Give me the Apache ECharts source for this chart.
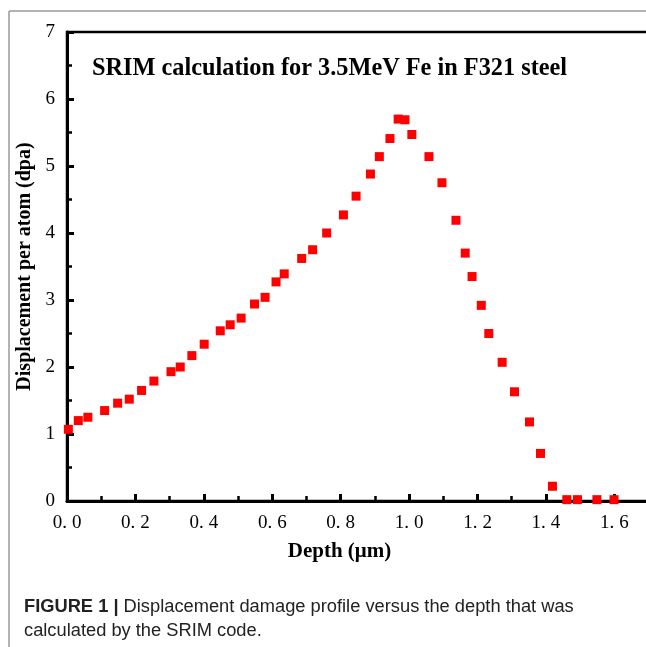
<!DOCTYPE html>
<html>
<head>
<meta charset="utf-8">
<script src="https://cdn.jsdelivr.net/npm/echarts@6/dist/echarts.min.js"></script>
<style>
html,body{margin:0;padding:0;background:#fff;overflow:hidden;}
#chart{width:654px;height:647px;}
</style>
</head>
<body>
<div id="chart"></div>
<script>
const depth = [0.004,0.033,0.061,0.110,0.148,0.182,0.218,0.254,0.304,0.331,0.365,0.401,0.448,0.477,0.509,0.548,0.579,0.611,0.635,0.686,0.718,0.759,0.808,0.845,0.887,0.913,0.944,0.968,0.988,1.008,1.058,1.096,1.137,1.164,1.184,1.211,1.233,1.272,1.308,1.352,1.384,1.419,1.461,1.492,1.549,1.599];
const dpa = [1.07,1.20,1.25,1.35,1.46,1.52,1.65,1.79,1.93,2.00,2.17,2.34,2.54,2.63,2.73,2.94,3.04,3.27,3.39,3.62,3.75,4.00,4.27,4.55,4.88,5.14,5.41,5.70,5.69,5.47,5.14,4.75,4.19,3.70,3.35,2.92,2.50,2.07,1.63,1.18,0.71,0.22,0.02,0.02,0.02,0.02];
const chartTitle = 'SRIM calculation for 3.5MeV Fe in F321 steel';
const xName = 'Depth (μm)';
const yName = 'Displacement per atom (dpa)';
const captionBold = 'FIGURE 1 |';
const captionLine1 = ' Displacement damage profile versus the depth that was';
const captionLine2 = 'calculated by the SRIM code.';

const points = depth.map((d, i) => [d, dpa[i]]);
const serif = '"Liberation Serif","Times New Roman",serif';
const sans = '"Liberation Sans",Arial,sans-serif';

const chart = echarts.init(document.getElementById('chart'));
chart.setOption({
  animation: false,
  backgroundColor: '#fff',
  title: {
    text: chartTitle,
    left: 87, top: 52,
    textStyle: {fontFamily: serif, fontWeight: 'bold', fontSize: 24.3, color: '#000'}
  },
  grid: {
    left: 67, top: 32, width: 585, height: 469,
    show: true, borderColor: '#000', borderWidth: 2.5, backgroundColor: 'transparent'
  },
  xAxis: {
    type: 'value', min: 0, max: 1.71, interval: 0.2,
    name: xName, nameLocation: 'middle', nameGap: 40, nameMoveOverlap: false,
    nameTextStyle: {fontFamily: serif, fontWeight: 'bold', fontSize: 21, color: '#000', padding: [0, 40, 0, 0]},
    axisLine: {onZero: false, lineStyle: {color: '#000', width: 3}},
    axisTick: {inside: true, length: 7, lineStyle: {color: '#000', width: 3}},
    minorTick: {show: true, splitNumber: 2, length: 5, lineStyle: {color: '#000', width: 2.5}},
    axisLabel: {fontFamily: serif, fontSize: 19, color: '#000', margin: 13, showMaxLabel: false,
      formatter: v => {
        const s = v.toFixed(1).split('.');
        return '{i|' + s[0] + '.}{f|' + s[1] + '}';
      },
      rich: {
        i: {fontFamily: serif, fontSize: 19, color: '#000', padding: [0, 5, 0, 0]},
        f: {fontFamily: serif, fontSize: 19, color: '#000'}
      }
    },
    splitLine: {show: false}
  },
  yAxis: {
    type: 'value', min: 0, max: 7, interval: 1,
    name: yName, nameLocation: 'middle', nameGap: 32, nameMoveOverlap: false,
    nameTextStyle: {fontFamily: serif, fontWeight: 'bold', fontSize: 20, color: '#000', padding: [10, 0, 0, 0]},
    axisLine: {onZero: false, lineStyle: {color: '#000', width: 3}},
    axisTick: {inside: true, length: 7, lineStyle: {color: '#000', width: 3}},
    minorTick: {show: true, splitNumber: 2, length: 5, lineStyle: {color: '#000', width: 2.5}},
    axisLabel: {fontFamily: serif, fontSize: 19, color: '#000', margin: 12},
    splitLine: {show: false}
  },
  series: [{
    type: 'scatter', data: points, symbol: 'rect', symbolSize: 9,
    itemStyle: {color: '#ff0000', opacity: 1}
  }],
  graphic: [
    {type: 'line', shape: {x1: 9, y1: 11, x2: 654, y2: 11}, style: {stroke: '#9a9a9a', lineWidth: 1.5}},
    {type: 'line', shape: {x1: 9, y1: 11, x2: 9, y2: 647}, style: {stroke: '#9a9a9a', lineWidth: 1.5}},
    {type: 'text', left: 24, top: 598, style: {
      text: '{b|' + captionBold + '}{n|' + captionLine1 + '}',
      rich: {
        b: {fontFamily: sans, fontWeight: 'bold', fontSize: 18.3, fill: '#222'},
        n: {fontFamily: sans, fontSize: 18.3, fill: '#222'}
      }
    }},
    {type: 'text', left: 24, top: 622, style: {
      text: captionLine2, fontFamily: sans, fontSize: 18.3, fill: '#222'
    }}
  ]
});
</script>
</body>
</html>
